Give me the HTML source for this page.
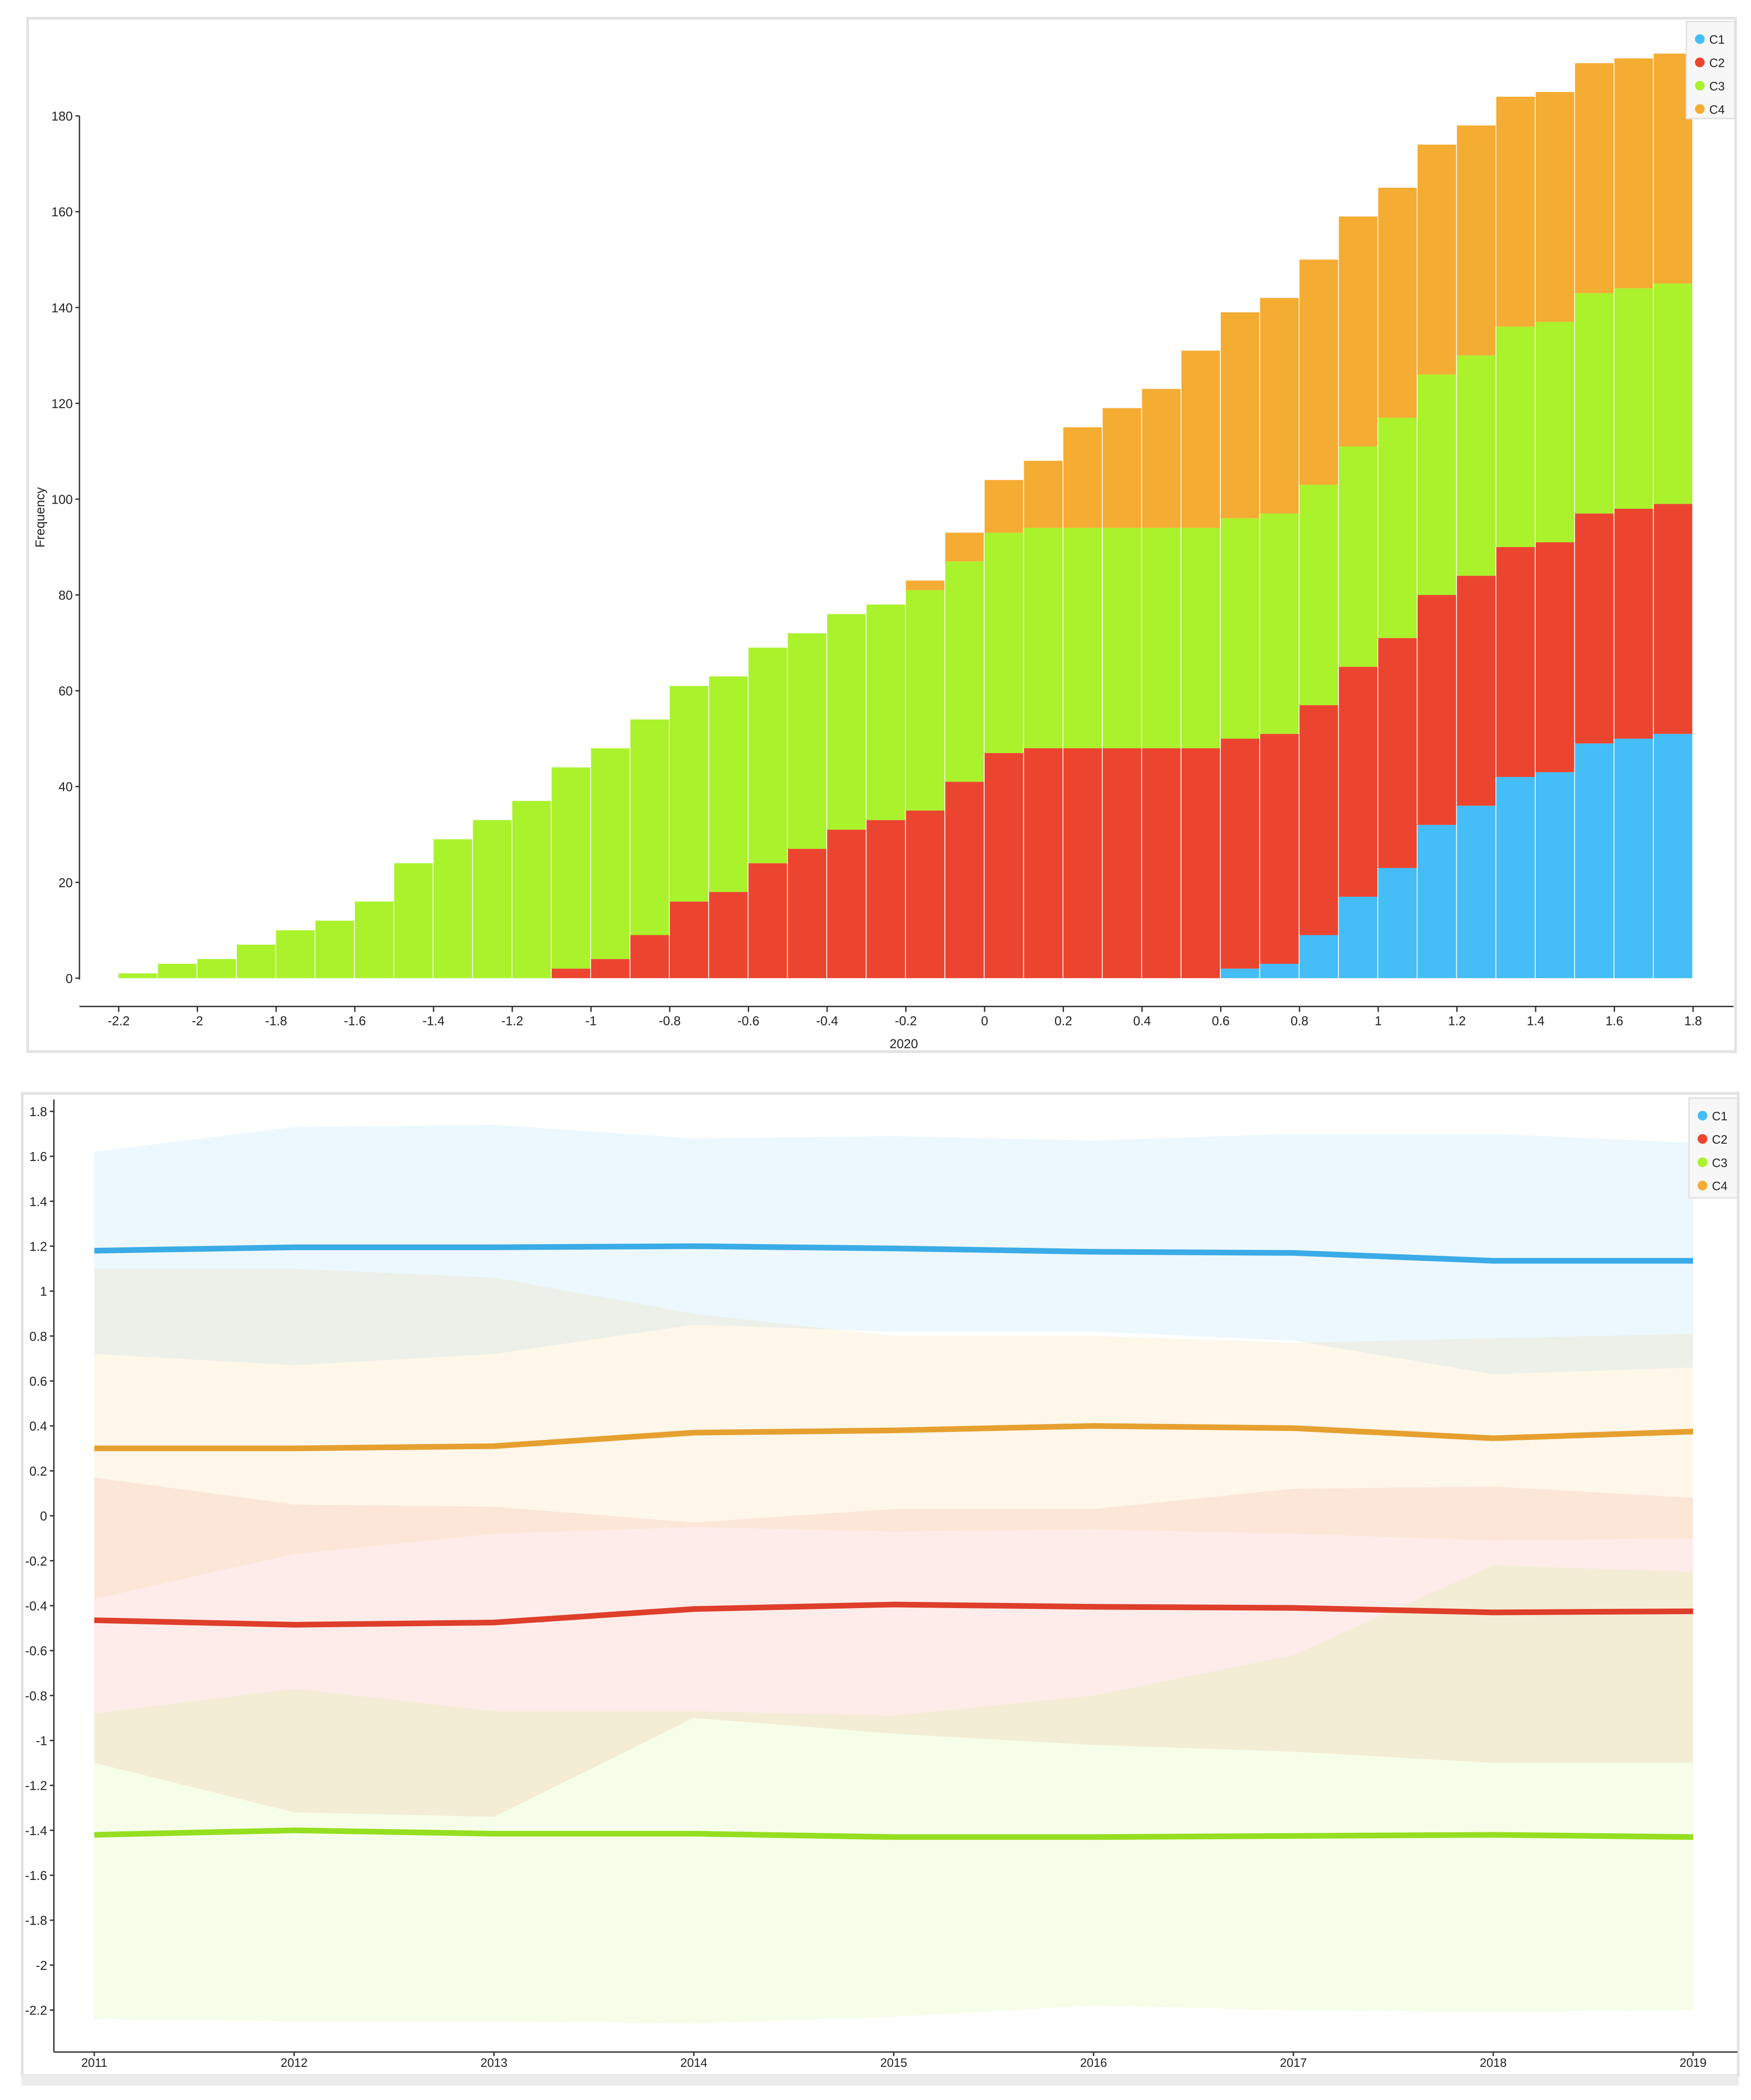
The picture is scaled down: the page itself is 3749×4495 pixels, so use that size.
<!DOCTYPE html>
<html><head><meta charset="utf-8"><style>
html,body{margin:0;padding:0;background:#fff;}
svg{display:block;}
text{font-family:"Liberation Sans",sans-serif;fill:#222;}
</style></head><body>
<svg id="chart" width="3749" height="4495" viewBox="0 0 1300 1558.6" preserveAspectRatio="none" xmlns="http://www.w3.org/2000/svg">
<rect x="0" y="0" width="1300" height="1558.6" fill="#fff"/>
<rect x="20.5" y="13.5" width="1268" height="767" fill="#fff" stroke="#e2e2e2" stroke-width="2"/>
<rect x="16.5" y="811.5" width="1274" height="729" fill="#fff" stroke="#e2e2e2" stroke-width="2"/>
<rect x="16" y="1540" width="1275" height="8" fill="#ececec"/>
<g id="topg"></g>
<g id="botg"></g>
</svg>
<script>
// ---------- histogram data ----------
const binStarts = [-2.2,-2.1,-2.0,-1.9,-1.8,-1.7,-1.6,-1.5,-1.4,-1.3,-1.2,-1.1,-1.0,-0.9,-0.8,-0.7,-0.6,-0.5,-0.4,-0.3,-0.2,-0.1,0.0,0.1,0.2,0.3,0.4,0.5,0.6,0.7,0.8,0.9,1.0,1.1,1.2,1.3,1.4,1.5,1.6,1.7];
const c1Counts = [0,0,0,0,0,0,0,0,0,0,0,0,0,0,0,0,0,0,0,0,0,0,0,0,0,0,0,0,2,3,9,17,23,32,36,42,43,49,50,51];
const c2Counts = [0,0,0,0,0,0,0,0,0,0,0,2,4,9,16,18,24,27,31,33,35,41,47,48,48,48,48,48,48,48,48,48,48,48,48,48,48,48,48,48];
const c3Counts = [1,3,4,7,10,12,16,24,29,33,37,42,44,45,45,45,45,45,45,45,46,46,46,46,46,46,46,46,46,46,46,46,46,46,46,46,46,46,46,46];
const c4Counts = [0,0,0,0,0,0,0,0,0,0,0,0,0,0,0,0,0,0,0,0,2,6,11,14,21,25,29,37,43,45,47,48,48,48,48,48,48,48,48,48];
const histXTicks = [-2.2,-2,-1.8,-1.6,-1.4,-1.2,-1,-0.8,-0.6,-0.4,-0.2,0,0.2,0.4,0.6,0.8,1,1.2,1.4,1.6,1.8];
const histYTicks = [0,20,40,60,80,100,120,140,160,180];
const binWidth = 0.1;
// ---------- line chart data ----------
const years = [2011,2012,2013,2014,2015,2016,2017,2018,2019];
const c1Mean = [1.18,1.195,1.195,1.2,1.19,1.175,1.17,1.135,1.135];
const c1Upper = [1.62,1.73,1.74,1.68,1.69,1.67,1.70,1.70,1.66];
const c1Lower = [0.72,0.67,0.72,0.85,0.82,0.82,0.78,0.63,0.66];
const c2Mean = [-0.465,-0.485,-0.475,-0.415,-0.395,-0.405,-0.41,-0.43,-0.425];
const c2Upper = [0.17,0.05,0.04,-0.03,0.03,0.03,0.12,0.13,0.08];
const c2Lower = [-1.1,-1.32,-1.34,-0.9,-0.97,-1.02,-1.05,-1.1,-1.1];
const c3Mean = [-1.42,-1.40,-1.415,-1.415,-1.43,-1.43,-1.425,-1.42,-1.43];
const c3Upper = [-0.88,-0.77,-0.87,-0.87,-0.89,-0.8,-0.62,-0.22,-0.25];
const c3Lower = [-2.24,-2.25,-2.25,-2.26,-2.23,-2.18,-2.2,-2.21,-2.2];
const c4Mean = [0.30,0.30,0.31,0.37,0.38,0.40,0.39,0.345,0.375];
const c4Upper = [1.1,1.1,1.06,0.9,0.8,0.8,0.77,0.79,0.81];
const c4Lower = [-0.37,-0.17,-0.08,-0.05,-0.07,-0.06,-0.08,-0.11,-0.10];
const lineYTicks = [1.8,1.6,1.4,1.2,1,0.8,0.6,0.4,0.2,0,-0.2,-0.4,-0.6,-0.8,-1,-1.2,-1.4,-1.6,-1.8,-2,-2.2];
const seriesNames = ["C1","C2","C3","C4"];

const NS = "http://www.w3.org/2000/svg";
function mk(tag, attrs, parent){const e=document.createElementNS(NS,tag);for(const k in attrs)e.setAttribute(k,attrs[k]);parent.appendChild(e);return e;}
const fillCols = ["#45bdf7","#ec452f","#aaf22c","#f4ac33"];
const lineCol = ["#3aabe6","#de3e2a","#95df20","#e6a030"];
function fmt(v){return String(Math.round(v*10)/10);}

// ---------- histogram ----------
const topG = document.getElementById("topg");
const hx = v => 731 + v*(1257-731)/1.8;
const hy = v => 726 - v*(726-86)/180;
const stacks = [c1Counts,c2Counts,c3Counts,c4Counts];
for(let i=0;i<binStarts.length;i++){
  let base=0;
  for(let s=0;s<4;s++){
    const v=stacks[s][i]; if(!v) continue;
    const x0=hx(binStarts[i]), x1=hx(binStarts[i]+binWidth);
    const r=mk("rect",{x:x0,y:hy(base+v),width:x1-x0-0.6,height:hy(base)-hy(base+v),fill:fillCols[s]},topG);
    
    
    base+=v;
  }
}
let ax=mk("line",{x1:59,y1:86,x2:59,y2:727,stroke:"#333","stroke-width":1},topG);


ax=mk("line",{x1:59,y1:747,x2:1287,y2:747,stroke:"#333","stroke-width":1},topG);


for(const t of histYTicks){
  mk("line",{x1:56,x2:59,y1:hy(t),y2:hy(t),stroke:"#333"},topG);
  const tx=mk("text",{x:54,y:hy(t)+3.5,"font-size":9.5,"text-anchor":"end"},topG);tx.textContent=t;
  
  
}
for(const t of histXTicks){
  mk("line",{x1:hx(t),x2:hx(t),y1:747,y2:751,stroke:"#333"},topG);
  const tx=mk("text",{x:hx(t),y:761,"font-size":9.5,"text-anchor":"middle"},topG);tx.textContent=fmt(t);
  
  
}
let tt=mk("text",{x:671,y:778,"font-size":9.5,"text-anchor":"middle"},topG);tt.textContent="2020";


tt=mk("text",{x:0,y:0,"font-size":9.5,"text-anchor":"middle",transform:"translate(33,384) rotate(-90)"},topG);tt.textContent="Frequency";


function legend(g,x,y,h,prefix){
  const b=mk("rect",{x:x,y:y,width:36,height:h,fill:"#f7f7f7",stroke:"#e0e0e0"},g);
  
  
  for(let s=0;s<4;s++){
    const cy=y+13+s*17.3;
    mk("circle",{cx:x+10,cy:cy,r:3.6,fill:fillCols[s]},g);
    const t=mk("text",{x:x+17,y:cy+3.5,"font-size":9},g);t.textContent=seriesNames[s];
    
    
  }
}
legend(topG,1252,16,72,"hist");

// ---------- line chart ----------
const botG = document.getElementById("botg");
const lx = yr => 70 + (yr-2011)*(1257-70)/8;
const ly = v => 1125 - v*(1492-825)/4.0;
const bands=[[c1Upper,c1Lower],[c2Upper,c2Lower],[c3Upper,c3Lower],[c4Upper,c4Lower]];
const means=[c1Mean,c2Mean,c3Mean,c4Mean];
for(let s=0;s<4;s++){
  const up=bands[s][0], lo=bands[s][1];
  let d="";
  years.forEach((yr,i)=>{d+=(i?"L":"M")+lx(yr)+","+ly(up[i]);});
  for(let i=years.length-1;i>=0;i--) d+="L"+lx(years[i])+","+ly(lo[i]);
  const p=mk("path",{d:d+"Z",fill:fillCols[s],"fill-opacity":0.1},botG);
  
  
}
for(let s=0;s<4;s++){
  const pts=years.map((yr,i)=>lx(yr)+","+ly(means[s][i])).join(" ");
  const l=mk("polyline",{points:pts,fill:"none",stroke:lineCol[s],"stroke-width":4.2,"stroke-linejoin":"round"},botG);
  
  
}
ax=mk("line",{x1:40,y1:816,x2:40,y2:1523,stroke:"#333"},botG);


ax=mk("line",{x1:40,y1:1523,x2:1290,y2:1523,stroke:"#333"},botG);


for(const t of lineYTicks){
  mk("line",{x1:37,x2:40,y1:ly(t),y2:ly(t),stroke:"#333"},botG);
  const tx=mk("text",{x:35,y:ly(t)+3.5,"font-size":9.5,"text-anchor":"end"},botG);tx.textContent=fmt(t);
  
  
}
for(const yr of years){
  mk("line",{x1:lx(yr),x2:lx(yr),y1:1523,y2:1526,stroke:"#333"},botG);
  const tx=mk("text",{x:lx(yr),y:1534,"font-size":9,"text-anchor":"middle"},botG);tx.textContent=yr;
  
  
}
legend(botG,1254,815,74,"line");
</script>
</body></html>
